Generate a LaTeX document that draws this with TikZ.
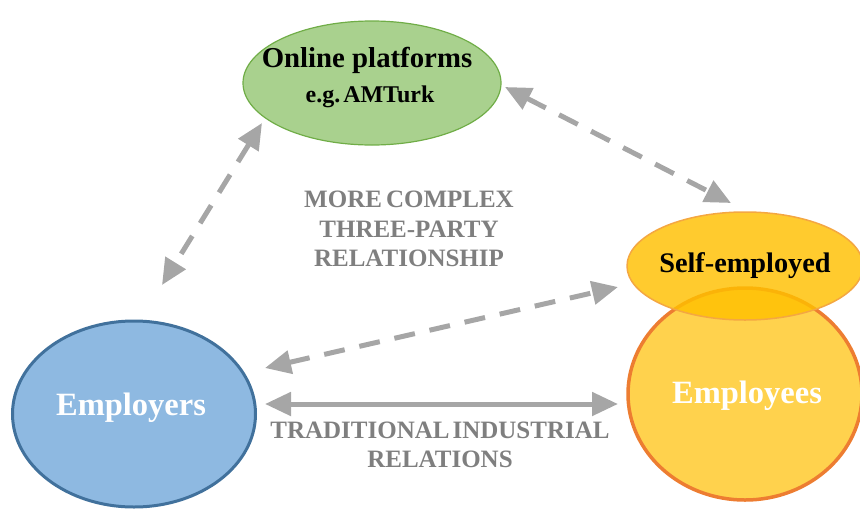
\documentclass[tikz,border=0pt]{standalone}
\usepackage{fontspec}
\setmainfont{Liberation Serif}
\usetikzlibrary{arrows.meta,shapes.geometric}
\definecolor{grnfill}{HTML}{A9D18E}
\definecolor{grnline}{HTML}{70AD47}
\definecolor{bluefill}{HTML}{8EB9E1}
\definecolor{blueline}{HTML}{41719C}
\definecolor{goldfill}{HTML}{FFC000}
\definecolor{goldline}{HTML}{F4A742}
\definecolor{empfill}{HTML}{FFD24D}
\definecolor{orgline}{HTML}{ED7D31}
\definecolor{arrgray}{HTML}{A6A6A6}
\definecolor{txtgray}{HTML}{7F7F7F}
\begin{document}
\begin{tikzpicture}[x=1pt,y=-1pt,
  blob/.style={ellipse,inner sep=0pt},
  rel/.style={draw=arrgray,line width=5pt,
    {Triangle[length=26pt,width=23pt]}-{Triangle[length=26pt,width=23pt]}},
  reldash/.style={rel,dash pattern=on 21pt off 15pt},
  graylbl/.style={font=\bfseries\fontsize{25}{30}\selectfont,text=txtgray,anchor=base,inner sep=0pt},
  bigwhite/.style={font=\bfseries\fontsize{32.5}{36}\selectfont,text=white,anchor=base,inner sep=0pt},
  darklbl/.style={anchor=base,inner sep=0pt,text=black}]
\useasboundingbox (0,0) rectangle (860,509);
\clip (0,0) rectangle (860,509);
% ellipses
\node[blob,fill=grnfill,draw=grnline,line width=1.2pt,minimum width=258pt,minimum height=124pt] (on) at (372,83) {};
\node[blob,fill=bluefill,draw=blueline,line width=3pt,minimum width=243pt,minimum height=186pt] (er) at (134,414) {};
\node[blob,fill=empfill,draw=orgline,line width=3.5pt,minimum width=234pt,minimum height=212pt] (ee) at (745,394) {};
\node[blob,fill=goldfill,fill opacity=0.82,draw=goldline,line width=1.5pt,minimum width=236pt,minimum height=108pt] (se) at (745,266) {};
% texts
\node[darklbl,font=\bfseries\fontsize{28.8}{32}\selectfont] (ont) at (367,67) {Online platforms};
\node[darklbl,font=\bfseries\fontsize{24}{28}\selectfont] (ont2) at (370,102) {e.g.\hspace{3pt}AMTurk};
\node[darklbl,font=\bfseries\fontsize{28.3}{32}\selectfont] (set) at (745,272) {Self-employed};
\node[bigwhite] (eet) at (747,403) {Employees};
\node[bigwhite] (ert) at (131,415) {Employers};
\node[graylbl] (m1) at (409,207) {MORE\hspace{4pt}COMPLEX};
\node[graylbl] (m2) at (409,237) {THREE-PARTY};
\node[graylbl] (m3) at (409,266) {RELATIONSHIP};
\node[graylbl] (t1) at (440,438) {TRADITIONAL\hspace{3pt}INDUSTRIAL};
\node[graylbl] (t2) at (440,467) {RELATIONS};
% connector ends
\coordinate (a1) at (262,123);
\coordinate (b1) at (162,285);
\coordinate (a2) at (505,87);
\coordinate (b2) at (731,203);
\coordinate (a3) at (265,368);
\coordinate (b3) at (618,287);
\coordinate (a4) at (265,404);
\coordinate (b4) at (618,404);
\draw[reldash] (a1) -- (b1);
\draw[reldash] (a2) -- (b2);
\draw[reldash] (a3) -- (b3);
\draw[rel] (a4) -- (b4);
\end{tikzpicture}
\end{document}
